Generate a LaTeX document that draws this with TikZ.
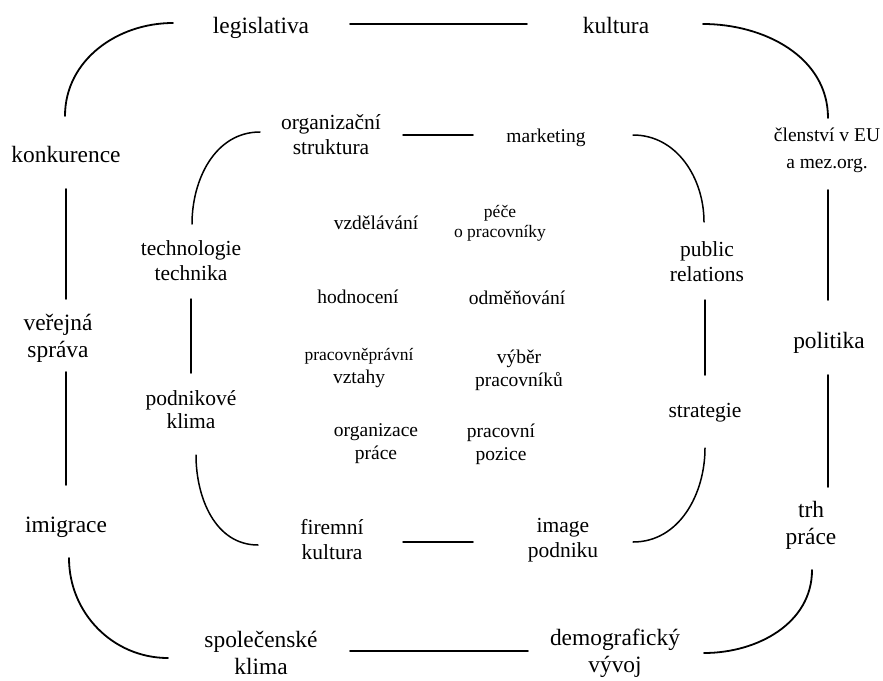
\documentclass[tikz,border=0pt]{standalone}
\usepackage{fontspec}
\setmainfont{Liberation Serif}
\usepackage{tikz}
\usetikzlibrary{positioning,calc}
\tikzset{
  outer/.style={font=\fontsize{23.4}{27}\selectfont,align=center,inner sep=0pt},
  inner/.style={font=\fontsize{21.5}{25}\selectfont,align=center,inner sep=0pt},
  core/.style={font=\fontsize{19.5}{23}\selectfont,align=center,inner sep=0pt},
  ring/.style={line width=1.8pt,line cap=round},
  inring/.style={line width=1.5pt,line cap=round},
}
\newcommand{\smalltxt}{\fontsize{17.5}{20}\selectfont}

\begin{document}
\begin{tikzpicture}[x=1pt,y=-1pt]
\useasboundingbox (0,0) rectangle (883,680);

% outer ring
\node[outer] (leg)   at (261,28)  {legislativa};
\node[outer] (kult)  at (616,25)  {kultura};
\node[outer,font=\fontsize{19.5}{27}\selectfont] (clen) at (827,150) {členství v EU\\a mez.org.};
\node[outer] (polit) at (829,343) {politika};
\node[outer] (trh)   at (811,525) {trh\\práce};
\node[outer] (demo)  at (615,653) {demografický\\vývoj};
\node[outer] (spol)  at (261,653) {společenské\\klima};
\node[outer] (imig)  at (66,527)  {imigrace};
\node[outer] (verej) at (58,338)  {veřejná\\správa};
\node[outer] (konk)  at (66,154)  {konkurence};

\draw[ring] ([shift={(89,-4)}]leg.center) -- ([shift={(-89,-1)}]kult.center);
\draw[ring] ([shift={(87,-1)}]kult.center) to[out=0,in=90] ([shift={(1,-32)}]clen.center);
\draw[ring] ([shift={(1,40)}]clen.center) -- ([shift={(-1,-43)}]polit.center);
\draw[ring] ([shift={(-1,32)}]polit.center) -- ([shift={(17,-38)}]trh.center);
\draw[ring] ([shift={(1,45)}]trh.center) to[out=-90,in=0] ([shift={(89,0)}]demo.center);
\draw[ring] ([shift={(-87,-2)}]demo.center) -- ([shift={(89,-2)}]spol.center);
\draw[ring] ([shift={(-93,5)}]spol.center) to[out=180,in=-90] ([shift={(3,31)}]imig.center);
\draw[ring] ([shift={(0,-42)}]imig.center) -- ([shift={(8,34)}]verej.center);
\draw[ring] ([shift={(8,-39)}]verej.center) -- ([shift={(0,35)}]konk.center);
\draw[ring] ([shift={(-1,-38)}]konk.center) to[out=90,in=180] ([shift={(-88,-5)}]leg.center);

% inner ring
\node[inner] (orgstr) at (331,135) {organizační\\struktura};
\node[inner,font=\fontsize{19.5}{23}\selectfont] (mark) at (546,138) {marketing};
\node[inner] (pr)     at (707,262) {public\\relations};
\node[inner] (strat)  at (705,413) {strategie};
\node[inner] (image)  at (563,540) {image\\podniku};
\node[inner] (firem)  at (332,540) {firemní\\kultura};
\node[inner,font=\fontsize{21.5}{23}\selectfont] (podkl) at (191,410) {podnikové\\klima};
\node[inner] (tech)   at (191,261) {technologie\\technika};

\draw[inring] ([shift={(72,0)}]orgstr.center) -- ([shift={(-73,-3)}]mark.center);
\draw[inring] ([shift={(87,-3)}]mark.center) to[out=0,in=90] ([shift={(-3,-40)}]pr.center);
\draw[inring] ([shift={(-2,38)}]pr.center) -- ([shift={(0,-38)}]strat.center);
\draw[inring] ([shift={(0,35)}]strat.center) to[out=-90,in=0] ([shift={(70,2)}]image.center);
\draw[inring] ([shift={(-90,2)}]image.center) -- ([shift={(71,2)}]firem.center);
\draw[inring] ([shift={(-74,5)}]firem.center) to[out=180,in=-90] ([shift={(5,45)}]podkl.center);
\draw[inring] ([shift={(0,-37)}]podkl.center) -- ([shift={(0,38)}]tech.center);
\draw[inring] ([shift={(1,-37)}]tech.center) to[out=90,in=180] ([shift={(-71,-3)}]orgstr.center);

% core activities
\node[core] (vzdel)   at (376,223) {vzdělávání};
\node[core,font=\smalltxt] (pece) at (500,223) {péče\\o pracovníky};
\node[core] (hodn)    at (358,297) {hodnocení};
\node[core] (odmen)   at (517,298) {odměňování};
\node[core] (pracpr)  at (359,368) {\smalltxt pracovněprávní\\vztahy};
\node[core] (vyber)   at (519,370) {výběr\\pracovníků};
\node[core] (orgpr)   at (376,444) {organizace\\práce};
\node[core] (pracpoz) at (501,444) {pracovní\\pozice};
\end{tikzpicture}
\end{document}
